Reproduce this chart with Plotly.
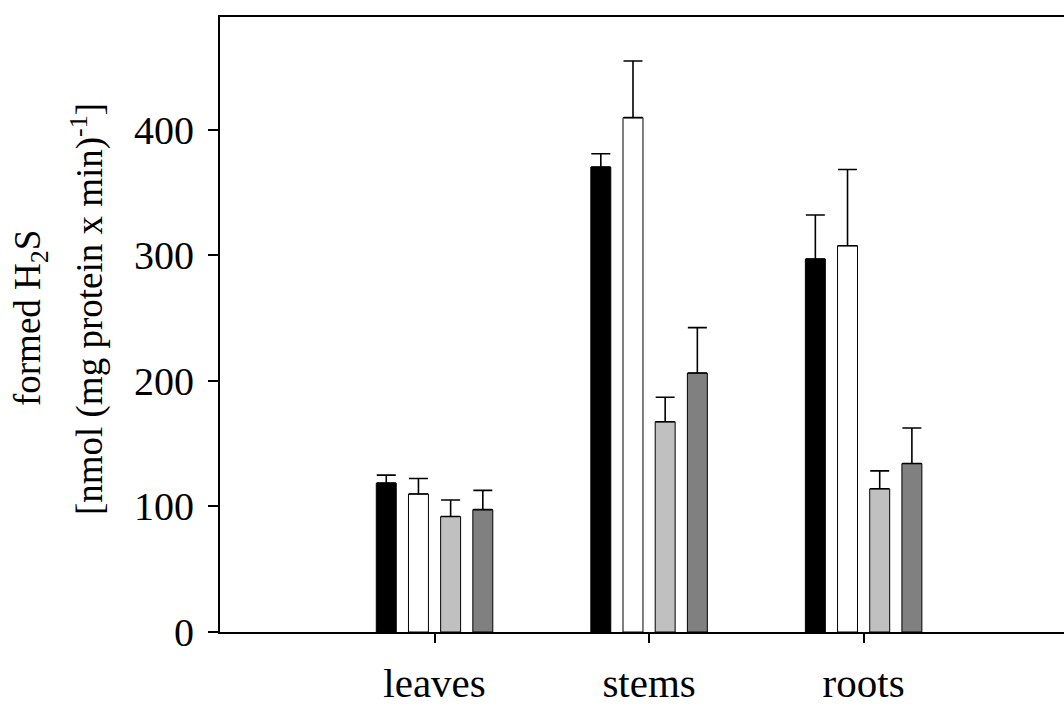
import plotly.graph_objects as go

categories = ["leaves", "stems", "roots"]
cat_pos = [1, 2, 3]

series_names = ["series 1", "series 2", "series 3", "series 4"]
series_colors = ["#000000", "#ffffff", "#c0c0c0", "#808080"]

s1_vals = [118.6, 370.4, 297.2]
s1_err = [6.4, 10.6, 35.1]
s2_vals = [110.0, 409.8, 307.8]
s2_err = [12.3, 45.2, 60.7]
s3_vals = [92.0, 167.5, 114.1]
s3_err = [13.2, 19.5, 14.3]
s4_vals = [97.5, 206.3, 134.2]
s4_err = [15.3, 36.2, 28.3]

y_ticks = [0, 100, 200, 300, 400]

values = [s1_vals, s2_vals, s3_vals, s4_vals]
errors = [s1_err, s2_err, s3_err, s4_err]

FONT = "Liberation Serif, Times New Roman, serif"

T, B = 17, 70
PH = 706 - T - B

fig = go.Figure()
for name, color, v, e in zip(series_names, series_colors, values, errors):
    fig.add_trace(go.Bar(
        x=cat_pos, y=v, name=name,
        marker=dict(color=color, line=dict(color="#000000", width=1)),
        error_y=dict(type="data", array=e, arrayminus=[0] * len(e), symmetric=False,
                     color="#000000", thickness=1.6, width=9.5),
    ))

fig.update_layout(
    width=1064, height=706,
    margin=dict(l=220, r=0, t=T, b=B, pad=0),
    paper_bgcolor="white", plot_bgcolor="white",
    barmode="group", bargap=0.4, bargroupgap=0.38,
    showlegend=False,
    font=dict(family=FONT, size=40, color="#000000"),
    xaxis=dict(
        range=[0, 3.934], tickvals=cat_pos, ticktext=categories,
        showline=True, linecolor="#000000", linewidth=2, mirror=True,
        ticks="outside", ticklen=9, tickwidth=1.5, tickcolor="#000000",
        showgrid=False, zeroline=False, ticklabelstandoff=5,
        tickfont=dict(family=FONT, size=41),
    ),
    yaxis=dict(
        range=[0, 490], tickvals=y_ticks,
        showline=True, linecolor="#000000", linewidth=2,
        ticks="outside", ticklen=10, tickwidth=1.5, tickcolor="#000000",
        showgrid=False, zeroline=False, ticklabelstandoff=6,
        tickfont=dict(family=FONT, size=40),
    ),
    annotations=[
        dict(text="formed H<sub>2</sub>S", xref="paper", yref="paper",
             x=(30 - 220) / 844, y=(706 - B - 320) / PH, xanchor="center", yanchor="middle",
             textangle=-90, showarrow=False, font=dict(family=FONT, size=37)),
        dict(text="[nmol (mg protein x min)<sup>-1</sup>]", xref="paper", yref="paper",
             x=(88 - 220) / 844, y=(706 - B - 311) / PH, xanchor="center", yanchor="middle",
             textangle=-90, showarrow=False, font=dict(family=FONT, size=37)),
    ],
)

fig.write_html(
    "out.html",
    config={"displayModeBar": False},
    post_script=(
        "document.documentElement.style.margin='0';"
        "document.documentElement.style.overflow='hidden';"
        "document.body.style.margin='0';"
        "document.body.style.overflow='hidden';"
        "document.body.style.height='706px';"
    ),
)
